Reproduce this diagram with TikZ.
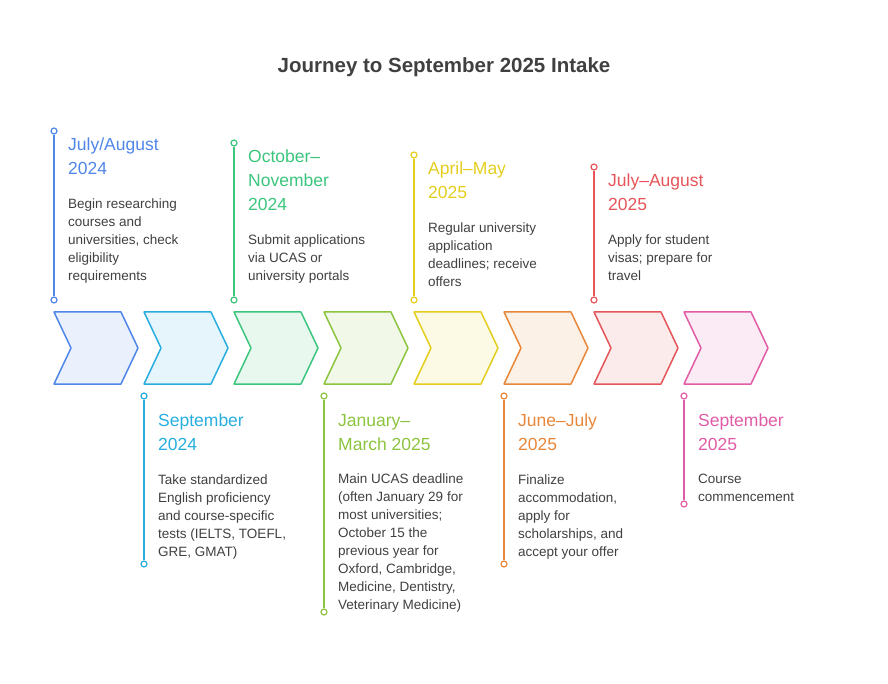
\documentclass[tikz,border=0pt]{standalone}
\usepackage{fontspec}
\setmainfont{Liberation Sans}
\begin{document}
\begin{tikzpicture}[x=1pt,y=-1pt,
  hd/.style={anchor=north west,inner sep=0pt,align=left,font=\fontsize{17.5}{24}\selectfont},
  bd/.style={anchor=north west,inner sep=0pt,align=left,text=black!75,font=\fontsize{13.5}{18}\selectfont},
  dotc/.style={circle,draw=#1,fill=white,line width=1.2pt,inner sep=0pt,minimum size=6pt}]
\useasboundingbox (0,0) rectangle (888,684);
\definecolor{c1}{HTML}{4F86E8}\definecolor{c2}{HTML}{27AEDF}
\definecolor{c3}{HTML}{3CC57D}\definecolor{c4}{HTML}{8CC43F}
\definecolor{c5}{HTML}{E3CE1E}\definecolor{c6}{HTML}{E8873A}
\definecolor{c7}{HTML}{E5555A}\definecolor{c8}{HTML}{E05CA6}
\node[font=\bfseries\fontsize{20.5}{24}\selectfont,text=black!75] (title) at (444,67) {Journey to September 2025 Intake};
\foreach \i/\c in {0/c1,1/c2,2/c3,3/c4,4/c5,5/c6,6/c7,7/c8}{
  \pgfmathsetmacro{\xx}{54+90*\i}
  \draw[\c,fill=\c!12,line width=1.5pt,line join=round]
   (\xx,312)--(\xx+67,312)--(\xx+84,348)--(\xx+67,384)--(\xx,384)--(\xx+17,348)--cycle;}
% upper
\foreach \xx/\dy/\c/\h/\b/\n in {
 54/131/c1/{July/August\\2024}/{Begin researching\\courses and\\universities, check\\eligibility\\requirements}/a,
 234/143/c3/{October--\\November\\2024}/{Submit applications\\via UCAS or\\university portals}/b,
 414/155/c5/{April--May\\2025}/{Regular university\\application\\deadlines; receive\\offers}/c,
 594/167/c7/{July--August\\2025}/{Apply for student\\visas; prepare for\\travel}/d}{
  \node[dotc=\c] (t\n) at (\xx,\dy) {};
  \node[dotc=\c] (s\n) at (\xx,300) {};
  \draw[\c,line width=1.2pt] (t\n)--(s\n);
  \node[hd,text=\c] (h\n) at (\xx+14,\dy+7) {\h};
  \node[bd] (b\n) at ([yshift=-23pt]h\n.south west) {\b};
}
% lower
\foreach \xx/\dy/\c/\h/\b/\n in {
 144/564/c2/{September\\2024}/{Take standardized\\English proficiency\\and course-specific\\tests (IELTS, TOEFL,\\GRE, GMAT)}/e,
 324/612/c4/{January--\\March 2025}/{Main UCAS deadline\\(often January 29 for\\most universities;\\October 15 the\\previous year for\\Oxford, Cambridge,\\Medicine, Dentistry,\\Veterinary Medicine)}/f,
 504/564/c6/{June--July\\2025}/{Finalize\\accommodation,\\apply for\\scholarships, and\\accept your offer}/g,
 684/504/c8/{September\\2025}/{Course\\commencement}/h}{
  \node[dotc=\c] (t\n) at (\xx,396) {};
  \node[dotc=\c] (s\n) at (\xx,\dy) {};
  \draw[\c,line width=1.2pt] (t\n)--(s\n);
  \node[hd,text=\c] (h\n) at (\xx+14,414) {\h};
  \node[bd] (b\n) at ([yshift=-23pt]h\n.south west) {\b};
}
\end{tikzpicture}
\end{document}
